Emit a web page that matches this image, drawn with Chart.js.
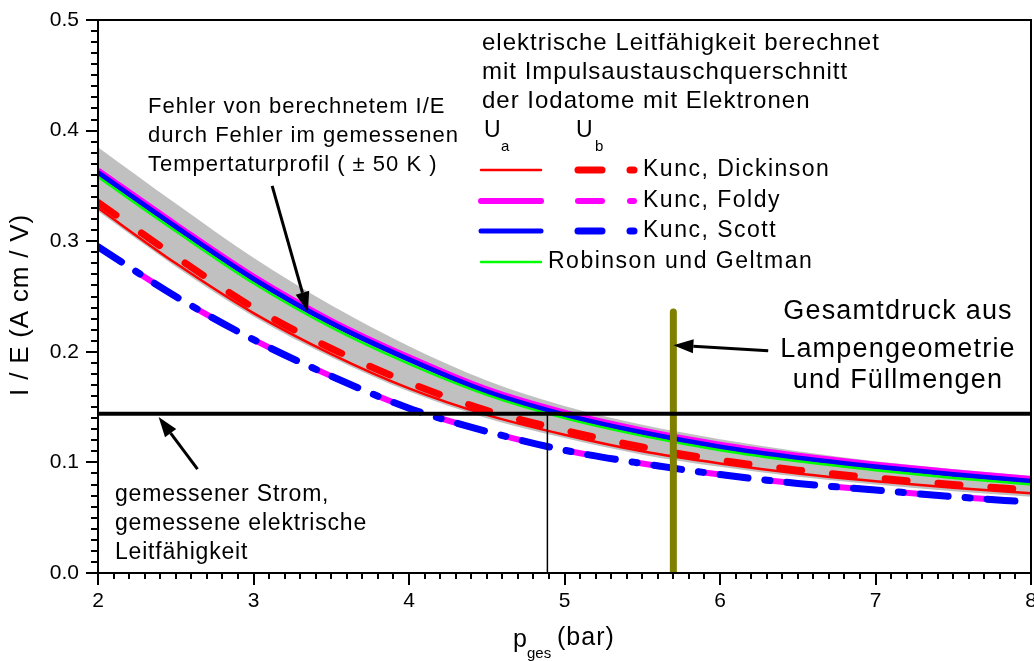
<!DOCTYPE html>
<html>
<head>
<meta charset="utf-8">
<script src="https://cdn.jsdelivr.net/npm/chart.js@4"></script>
<style>
  html, body { margin: 0; background: #fff; }
  #wrap { width: 1034px; height: 661px; }
</style>
</head>
<body>
<div id="wrap"><canvas id="chart"></canvas></div>
<script>
const pressure = [2, 2.5, 3, 3.5, 4, 4.5, 5, 5.5, 6, 6.5, 7, 7.5, 8];

// U_a curves
const dickinsonA = [0.330, 0.280, 0.235, 0.198, 0.167, 0.143, 0.125, 0.110, 0.099, 0.090, 0.083, 0.077, 0.072];
const foldyA     = [0.364, 0.315, 0.268, 0.228, 0.195, 0.166, 0.145, 0.129, 0.116, 0.106, 0.098, 0.091, 0.085];
const scottA     = [0.362, 0.313, 0.266, 0.226, 0.193, 0.164, 0.143, 0.127, 0.114, 0.104, 0.096, 0.089, 0.083];
const robinson   = [0.358, 0.309, 0.262, 0.222, 0.189, 0.161, 0.140, 0.124, 0.111, 0.101, 0.093, 0.086, 0.080];
// U_b curves
const dickinsonB = [0.335, 0.286, 0.240, 0.203, 0.172, 0.147, 0.129, 0.114, 0.102, 0.093, 0.086, 0.080, 0.075];
const foldyB     = [0.295, 0.250, 0.211, 0.178, 0.149, 0.128, 0.111, 0.099, 0.089, 0.081, 0.075, 0.069, 0.064];
const scottB     = [0.295, 0.250, 0.211, 0.178, 0.149, 0.128, 0.111, 0.099, 0.089, 0.081, 0.075, 0.069, 0.064];
// error band from the ±50 K temperature profile
const bandUpper  = [0.385, 0.334, 0.285, 0.242, 0.205, 0.174, 0.151, 0.134, 0.121, 0.110, 0.101, 0.094, 0.088];
const bandLower  = [0.327, 0.277, 0.232, 0.195, 0.164, 0.140, 0.122, 0.107, 0.096, 0.087, 0.080, 0.074, 0.069];

const measuredIE = 0.144;       // gemessener Strom
const crossingPressure = 4.89;  // where the measured line meets the calculated curves
const totalPressure = 5.70;     // Gesamtdruck aus Lampengeometrie
const totalPressureTop = 0.236;

const xRange = [2, 8];
const yRange = [0, 0.5];

const FONT = '"Liberation Sans", Arial, Helvetica, sans-serif';
const pts = vals => pressure.map((p, i) => ({ x: p, y: vals[i] }));

function curve(label, vals, color, width, order, dash, offset) {
  return {
    label, data: pts(vals), borderColor: color, borderWidth: width, order,
    borderDash: dash || [], borderDashOffset: offset || 0,
    borderCapStyle: dash ? 'round' : 'butt',
    pointRadius: 0, fill: false, cubicInterpolationMode: 'monotone',
  };
}
function segment(label, a, b, color, width, order, cap) {
  return {
    label, data: [a, b], borderColor: color, borderWidth: width, order,
    borderCapStyle: cap || 'butt', pointRadius: 0, fill: false, tension: 0,
  };
}

const DASH_RED = [22, 31];
const DASH_DOT = [28, 17, 5, 17];

const styles = {
  dickA:  { color: '#ff0000', width: 2.5 },
  foldA:  { color: '#ff00ff', width: 6 },
  scotA:  { color: '#0000ff', width: 5 },
  robin:  { color: '#00ff00', width: 2.5 },
  dickB:  { color: '#ff0000', width: 7, dash: DASH_RED },
  foldB:  { color: '#ff00ff', width: 6, dash: DASH_DOT, offset: 22 },
  scotB:  { color: '#0000ff', width: 7, dash: DASH_DOT },
};

const datasets = [
  segment('measured', { x: xRange[0], y: measuredIE }, { x: xRange[1], y: measuredIE }, '#000', 4, 0),
  segment('crossing', { x: crossingPressure, y: 0 }, { x: crossingPressure, y: measuredIE }, '#000', 1.5, 0),
  segment('total', { x: totalPressure, y: 0 }, { x: totalPressure, y: totalPressureTop }, '#808000', 7, 0, 'round'),
  curve('Kunc, Scott U_b', scottB, styles.scotB.color, styles.scotB.width, 1, styles.scotB.dash),
  curve('Kunc, Foldy U_b', foldyB, styles.foldB.color, styles.foldB.width, 2, styles.foldB.dash, styles.foldB.offset),
  curve('Kunc, Dickinson U_b', dickinsonB, styles.dickB.color, styles.dickB.width, 3, styles.dickB.dash),
  curve('Kunc, Dickinson U_a', dickinsonA, styles.dickA.color, styles.dickA.width, 4),
  curve('Robinson und Geltman', robinson, styles.robin.color, styles.robin.width, 5),
  curve('Kunc, Scott U_a', scottA, styles.scotA.color, styles.scotA.width, 6),
  curve('Kunc, Foldy U_a', foldyA, styles.foldA.color, styles.foldA.width, 7),
  { label: 'band upper', data: pts(bandUpper), borderColor: 'rgba(0,0,0,0)', borderWidth: 0,
    backgroundColor: '#c0c0c0', fill: '+1', pointRadius: 0, order: 20, cubicInterpolationMode: 'monotone' },
  { label: 'band lower', data: pts(bandLower), borderColor: 'rgba(0,0,0,0)', borderWidth: 0,
    fill: false, pointRadius: 0, order: 21, cubicInterpolationMode: 'monotone' },
];

function txt(ctx, s, x, y, size, align, spacing) {
  ctx.font = size + 'px ' + FONT;
  ctx.letterSpacing = (spacing || 0) + 'px';
  ctx.textAlign = align || 'left';
  ctx.textBaseline = 'middle';
  ctx.fillText(s, x, y);
  ctx.letterSpacing = '0px';
}

function arrow(ctx, x0, y0, x1, y1) {
  const ang = Math.atan2(y1 - y0, x1 - x0);
  const len = 20, half = 7;
  const bx = x1 - len * Math.cos(ang), by = y1 - len * Math.sin(ang);
  ctx.lineWidth = 3;
  ctx.beginPath();
  ctx.moveTo(x0, y0);
  ctx.lineTo(bx, by);
  ctx.stroke();
  ctx.beginPath();
  ctx.moveTo(x1, y1);
  ctx.lineTo(bx - half * Math.sin(ang), by + half * Math.cos(ang));
  ctx.lineTo(bx + half * Math.sin(ang), by - half * Math.cos(ang));
  ctx.closePath();
  ctx.fill();
}

function legendLine(ctx, st, x0, x1, y) {
  ctx.save();
  ctx.strokeStyle = st.color;
  ctx.lineWidth = st.width;
  ctx.lineCap = 'round';
  ctx.beginPath();
  ctx.moveTo(x0, y);
  ctx.lineTo(x1, y);
  ctx.stroke();
  ctx.restore();
}

const decor = {
  id: 'decor',
  afterDraw(chart) {
    const { ctx, chartArea: a, scales: { x, y } } = chart;
    ctx.save();
    ctx.strokeStyle = '#000';
    ctx.fillStyle = '#000';

    // frame
    ctx.lineWidth = 2;
    ctx.strokeRect(a.left, a.top, a.right - a.left, a.bottom - a.top);

    // ticks: majors every 1 bar / 0.1, minors every 0.1 bar / 0.01
    ctx.beginPath();
    for (let i = xRange[0] * 10; i <= xRange[1] * 10; i++) {
      const px = Math.round(x.getPixelForValue(i / 10));
      ctx.moveTo(px, a.bottom);
      ctx.lineTo(px, a.bottom + (i % 10 === 0 ? 12 : 6));
    }
    for (let i = 0; i <= yRange[1] * 100; i++) {
      const py = Math.round(y.getPixelForValue(i / 100));
      ctx.moveTo(a.left, py);
      ctx.lineTo(a.left - (i % 10 === 0 ? 12 : 7), py);
    }
    ctx.stroke();

    // axis titles
    txt(ctx, 'p', 513, 640, 25);
    txt(ctx, 'ges', 527, 654, 15);
    txt(ctx, '(bar)', 557, 638, 25, 'left', 1);
    ctx.save();
    ctx.translate(21, 305);
    ctx.rotate(-Math.PI / 2);
    txt(ctx, 'I / E (A cm / V)', 0, 0, 26, 'center', 0.8);
    ctx.restore();

    // legend block
    txt(ctx, 'elektrische Leitfähigkeit berechnet', 482, 43, 24, 'left', 1);
    txt(ctx, 'mit Impulsaustauschquerschnitt', 482, 72, 24, 'left', 1);
    txt(ctx, 'der Iodatome mit Elektronen', 482, 101, 24, 'left', 1);
    txt(ctx, 'U', 484, 131, 23);
    txt(ctx, 'a', 501, 147, 15);
    txt(ctx, 'U', 576, 131, 23);
    txt(ctx, 'b', 595, 147, 15);

    const rows = [
      [styles.dickA, styles.dickB, 170, 'Kunc, Dickinson'],
      [styles.foldA, styles.foldB, 201, 'Kunc, Foldy'],
      [styles.scotA, styles.scotB, 231, 'Kunc, Scott'],
    ];
    rows.forEach(([sa, sb, ry, name]) => {
      legendLine(ctx, sa, 481, 541, ry);
      legendLine(ctx, sb, 578, 602, ry);
      legendLine(ctx, sb, 630, 634, ry);
      txt(ctx, name, 643, ry, 23, 'left', 1.5);
    });
    legendLine(ctx, styles.robin, 481, 541, 262);
    txt(ctx, 'Robinson und Geltman', 548, 262, 23, 'left', 1.5);

    // annotations
    txt(ctx, 'Fehler von berechnetem I/E', 148, 107, 22, 'left', 1);
    txt(ctx, 'durch Fehler im gemessenen', 148, 136, 22, 'left', 1);
    txt(ctx, 'Tempertaturprofil ( ± 50 K )', 148, 165, 22, 'left', 1);
    arrow(ctx, x.getPixelForValue(3.12), y.getPixelForValue(0.350),
               x.getPixelForValue(3.35), y.getPixelForValue(0.236));

    txt(ctx, 'Gesamtdruck aus', 898, 312, 27, 'center', 1.2);
    txt(ctx, 'Lampengeometrie', 898, 350, 27, 'center', 1.2);
    txt(ctx, 'und Füllmengen', 898, 381, 27, 'center', 1.2);
    arrow(ctx, x.getPixelForValue(6.31), y.getPixelForValue(0.201),
               x.getPixelForValue(5.70), y.getPixelForValue(0.206));

    txt(ctx, 'gemessener Strom,', 115, 495, 23, 'left', 0.8);
    txt(ctx, 'gemessene elektrische', 115, 524, 23, 'left', 0.8);
    txt(ctx, 'Leitfähigkeit', 115, 553, 23, 'left', 0.8);
    arrow(ctx, x.getPixelForValue(2.64), y.getPixelForValue(0.094),
               x.getPixelForValue(2.39), y.getPixelForValue(0.141));

    ctx.restore();
  }
};

new Chart(document.getElementById('chart'), {
  type: 'line',
  data: { datasets },
  plugins: [decor],
  options: {
    responsive: true,
    maintainAspectRatio: false,
    animation: false,
    layout: { padding: { left: 0, top: 20, right: 3, bottom: 0 } },
    plugins: { legend: { display: false }, tooltip: { enabled: false } },
    scales: {
      x: {
        type: 'linear', min: xRange[0], max: xRange[1],
        ticks: { stepSize: 1, color: '#000', font: { family: FONT, size: 21 }, padding: 4, maxRotation: 0 },
        grid: { display: false, drawTicks: true, tickLength: 12 },
        border: { display: false },
        afterFit: s => { s.height = 88; s.paddingLeft = 0; s.paddingRight = 0; },
      },
      y: {
        type: 'linear', min: yRange[0], max: yRange[1],
        ticks: { stepSize: 0.1, color: '#000', font: { family: FONT, size: 21 }, padding: 7,
                 callback: v => v.toFixed(1) },
        grid: { display: false, drawTicks: true, tickLength: 12 },
        border: { display: false },
        afterFit: s => { s.width = 98; s.paddingTop = 0; s.paddingBottom = 0; },
      },
    },
  },
});
</script>
</body>
</html>
